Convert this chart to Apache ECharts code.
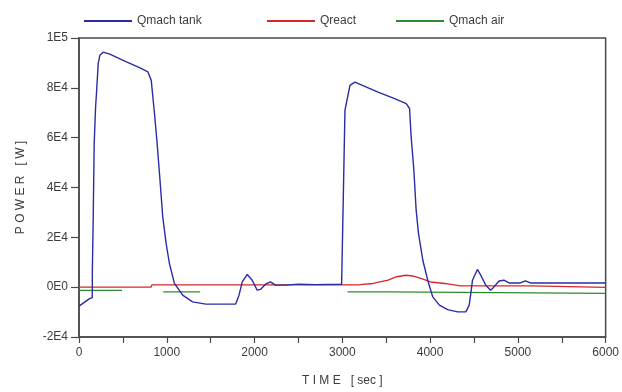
<!DOCTYPE html>
<html>
<head>
<meta charset="utf-8">
<script src="https://cdn.jsdelivr.net/npm/echarts@6/dist/echarts.min.js"></script>
<style>
  html, body { margin: 0; padding: 0; background: #fff; }
  #chart { width: 622px; height: 392px; }
</style>
</head>
<body>
<div id="chart"></div>
<script>
'use strict';

// Qmach tank (blue)
var tankTime  = [0, 68, 125, 151, 152, 162, 173, 189, 200, 219, 238, 275, 351, 540, 690, 785, 823, 860, 887, 917,
                 954, 993, 1030, 1087, 1181, 1294, 1445, 1785, 1823, 1860, 1917, 1973, 2030, 2068, 2125, 2181, 2238,
                 2351, 2502, 2700, 2992, 3011, 3012, 3030, 3087, 3143, 3407, 3596, 3728, 3766, 3784, 3815, 3841,
                 3868, 3917, 3973, 4030, 4106, 4200, 4313, 4407, 4445, 4464, 4483, 4539, 4577, 4634, 4690, 4728,
                 4785, 4841, 4898, 5026, 5087, 5143, 6000];
var tankPower = [-7600, -5900, -4500, -4300, 6100, 28000, 57600, 72300, 78300, 89800, 93100, 94300, 93500, 90400,
                 88100, 86400, 83000, 69700, 59000, 45600, 28200, 17500, 9500, 1500, -3200, -5900, -6800, -6800,
                 -3200, 2100, 5100, 2800, -1200, -900, 1200, 2100, 800, 800, 1200, 1000, 1200, 1200, 37700, 71000,
                 81000, 82300, 78300, 75700, 73700, 71700, 60300, 47000, 30900, 21500, 10800, 2800, -3900, -7200,
                 -9000, -9900, -9900, -7200, -2500, 2800, 7100, 4800, 800, -1200, 100, 2500, 2800, 1700, 1700,
                 2500, 1700, 1700];

// Qreact (red)
var reactTime  = [0, 820, 830, 3200, 3350, 3521, 3620, 3724, 3800, 3894, 4007, 4166, 4347, 5160, 5165, 6000];
var reactPower = [0, 0, 900, 1000, 1500, 2800, 4200, 4800, 4500, 3500, 2100, 1500, 500, 500, -100, -100];

// Qmach air (green), '-' marks a gap in the line
var airTime  = [0, 490, 700, 960, 1380, 2000, 3060, 3520, 3530, 6000];
var airPower = [-1300, -1300, '-', -1900, -1900, '-', -1900, -1900, -2500, -2500];

var yTickValues = [100000, 80000, 60000, 40000, 20000, 0, -20000];
var yTickLabels = ['1E5', '8E4', '6E4', '4E4', '2E4', '0E0', '-2E4'];
var xTickLabels = ['0', '1000', '2000', '3000', '4000', '5000', '6000'];

var seriesNames  = ['Qmach tank', 'Qreact', 'Qmach air'];
var seriesColors = ['#2b2ba6', '#d62828', '#2e8b2e'];

function zip(xs, ys) {
    var out = [];
    for (var i = 0; i < xs.length; i++) {
        out.push([xs[i], ys[i]]);
    }
    return out;
}

var textColor = '#3c3c3c';
var axisColor = '#4a4a4a';
var fontFamily = 'Liberation Sans, Arial, sans-serif';

function legendFor(name, left) {
    return {
        data: [name],
        left: left,
        top: 10,
        icon: 'rect',
        itemWidth: 48,
        itemHeight: 2,
        itemGap: 0,
        textStyle: { color: textColor, fontSize: 12, fontFamily: fontFamily }
    };
}

var option = {
    backgroundColor: '#ffffff',
    animation: false,
    color: seriesColors,
    legend: [
        legendFor(seriesNames[0], 79),
        legendFor(seriesNames[1], 262),
        legendFor(seriesNames[2], 391)
    ],
    grid: {
        left: 79,
        right: 13,
        top: 38,
        bottom: 55,
        show: true,
        borderColor: axisColor,
        borderWidth: 1.5,
        backgroundColor: 'transparent'
    },
    xAxis: {
        type: 'value',
        min: 0,
        max: 6000,
        interval: 500,
        name: 'T I M E   [ sec ]',
        nameLocation: 'middle',
        nameGap: 38,
        nameTextStyle: { color: textColor, fontSize: 12, fontFamily: fontFamily },
        axisLine: { show: true, onZero: false, lineStyle: { color: axisColor, width: 1.5 } },
        axisTick: { show: true, inside: false, length: 6, lineStyle: { color: axisColor, width: 1.2 } },
        splitLine: { show: false },
        axisLabel: {
            color: textColor,
            fontSize: 12,
            fontFamily: fontFamily,
            margin: 10,
            showMinLabel: true,
            showMaxLabel: true,
            formatter: function (v) {
                if (v % 1000 !== 0) return '';
                return xTickLabels[v / 1000];
            }
        }
    },
    yAxis: {
        type: 'value',
        min: -20000,
        max: 100000,
        interval: 20000,
        name: 'P O W E R   [ W ]',
        nameLocation: 'middle',
        nameGap: 52,
        nameRotate: 90,
        nameTextStyle: { color: textColor, fontSize: 12, fontFamily: fontFamily },
        axisLine: { show: true, onZero: false, lineStyle: { color: axisColor, width: 1.5 } },
        axisTick: { show: true, inside: false, length: 8, lineStyle: { color: axisColor, width: 1.2 } },
        splitLine: { show: false },
        axisLabel: {
            color: textColor,
            fontSize: 12,
            fontFamily: fontFamily,
            margin: 11,
            formatter: function (v) {
                var idx = yTickValues.indexOf(v);
                return idx >= 0 ? yTickLabels[idx] : '';
            }
        }
    },
    series: [
        {
            name: seriesNames[0],
            type: 'line',
            data: zip(tankTime, tankPower),
            showSymbol: false,
            symbol: 'none',
            lineStyle: { color: seriesColors[0], width: 1.4 },
            z: 3
        },
        {
            name: seriesNames[1],
            type: 'line',
            data: zip(reactTime, reactPower),
            showSymbol: false,
            symbol: 'none',
            lineStyle: { color: seriesColors[1], width: 1.4 },
            z: 2
        },
        {
            name: seriesNames[2],
            type: 'line',
            data: zip(airTime, airPower),
            showSymbol: false,
            symbol: 'none',
            connectNulls: false,
            lineStyle: { color: seriesColors[2], width: 1.4 },
            z: 1
        }
    ]
};

var chart = echarts.init(document.getElementById('chart'), null, { renderer: 'canvas' });
chart.setOption(option);
</script>
</body>
</html>
